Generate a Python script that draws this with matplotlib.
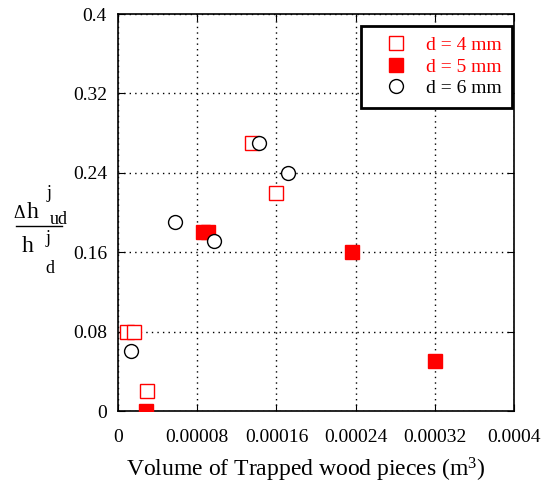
import numpy as np
import matplotlib
matplotlib.use("Agg")
import matplotlib.pyplot as plt

plt.rcParams['font.family'] = ['Liberation Serif', 'DejaVu Serif']
plt.rcParams['mathtext.fontset'] = 'custom'
plt.rcParams['mathtext.rm'] = 'Liberation Serif'
plt.rcParams['mathtext.it'] = 'Liberation Serif'

# d = 4 mm (open red squares)
x4 = [0.000009, 0.000016, 0.000029, 0.000135, 0.00016]
y4 = [0.08, 0.08, 0.02, 0.27, 0.22]
# d = 5 mm (filled red squares)
x5 = [0.000028, 0.000086, 0.000091, 0.000236, 0.00032]
y5 = [0.0, 0.18, 0.18, 0.16, 0.05]
# d = 6 mm (open black circles)
x6 = [0.000013, 0.000058, 0.000097, 0.000142, 0.000172]
y6 = [0.06, 0.19, 0.171, 0.27, 0.24]

xticks = [0, 0.00008, 0.00016, 0.00024, 0.00032, 0.0004]
xtick_labels = ['0', '0.00008', '0.00016', '0.00024', '0.00032', '0.0004']
yticks = [0, 0.08, 0.16, 0.24, 0.32, 0.4]
ytick_labels = ['0', '0.08', '0.16', '0.24', '0.32', '0.4']

W, H = 544, 483
fig = plt.figure(figsize=(W / 100, H / 100), dpi=100)
ax = fig.add_axes([0.217, 0.149, 0.728, 0.822])

ax.plot(x4, y4, 's', ms=10, mfc='white', mec='red', mew=1.0, label='d = 4 mm', zorder=3)
ax.plot(x5, y5, 's', ms=10, mfc='red', mec='red', mew=1.0, label='d = 5 mm', zorder=3)
ax.plot(x6, y6, 'o', ms=10, mfc='white', mec='black', mew=1.0, label='d = 6 mm', zorder=4)

ax.set_xlim(0, 0.0004)
ax.set_ylim(0, 0.4)
ax.set_xticks(xticks)
ax.set_xticklabels(xtick_labels)
ax.set_yticks(yticks)
ax.set_yticklabels(ytick_labels)
ax.tick_params(direction='in', top=True, right=True, labelsize=14, length=5)
ax.tick_params(axis='x', pad=13)
ax.tick_params(axis='y', pad=8)
ax.grid(True, color='black', linestyle=(0, (1, 3)), linewidth=1.0)
for s in ax.spines.values():
    s.set_linewidth(1.2)

ax.set_xlabel('Volume of Trapped wood pieces (m$^3$)', fontsize=17)
ax.xaxis.set_label_coords(0.475, -0.149)
ax.xaxis.label.set_va('center')

# y label as stacked fraction
fig.text(13 / W, 1 - 218 / H, r'$\Delta$', fontsize=13, ha='left', va='baseline')
fig.text(27 / W, 1 - 218 / H, 'h', fontsize=17, ha='left', va='baseline')
fig.text(0.086, 0.60, 'j', fontsize=13, ha='left', va='center')
fig.text(0.091, 0.545, 'ud', fontsize=13, ha='left', va='center')
fig.lines.append(plt.Line2D([0.029, 0.114], [0.532, 0.532], transform=fig.transFigure, color='black', lw=1))
fig.text(0.04, 0.489, 'h', fontsize=17, ha='left', va='center')
fig.text(0.084, 0.507, 'j', fontsize=13, ha='left', va='center')
fig.text(0.084, 0.445, 'd', fontsize=13, ha='left', va='center')

leg = ax.legend(loc='upper right', bbox_to_anchor=(512 / W, 1 - 26 / H),
                bbox_transform=fig.transFigure, fontsize=14, frameon=True,
                fancybox=False, edgecolor='black', framealpha=1, borderpad=0.55,
                handlelength=2.5, handletextpad=0.25, labelspacing=0.2,
                borderaxespad=0)
leg.get_frame().set_linewidth(2)
for t, c in zip(leg.get_texts(), ['red', 'red', 'black']):
    t.set_color(c)

fig.savefig('out.png', dpi=100)
